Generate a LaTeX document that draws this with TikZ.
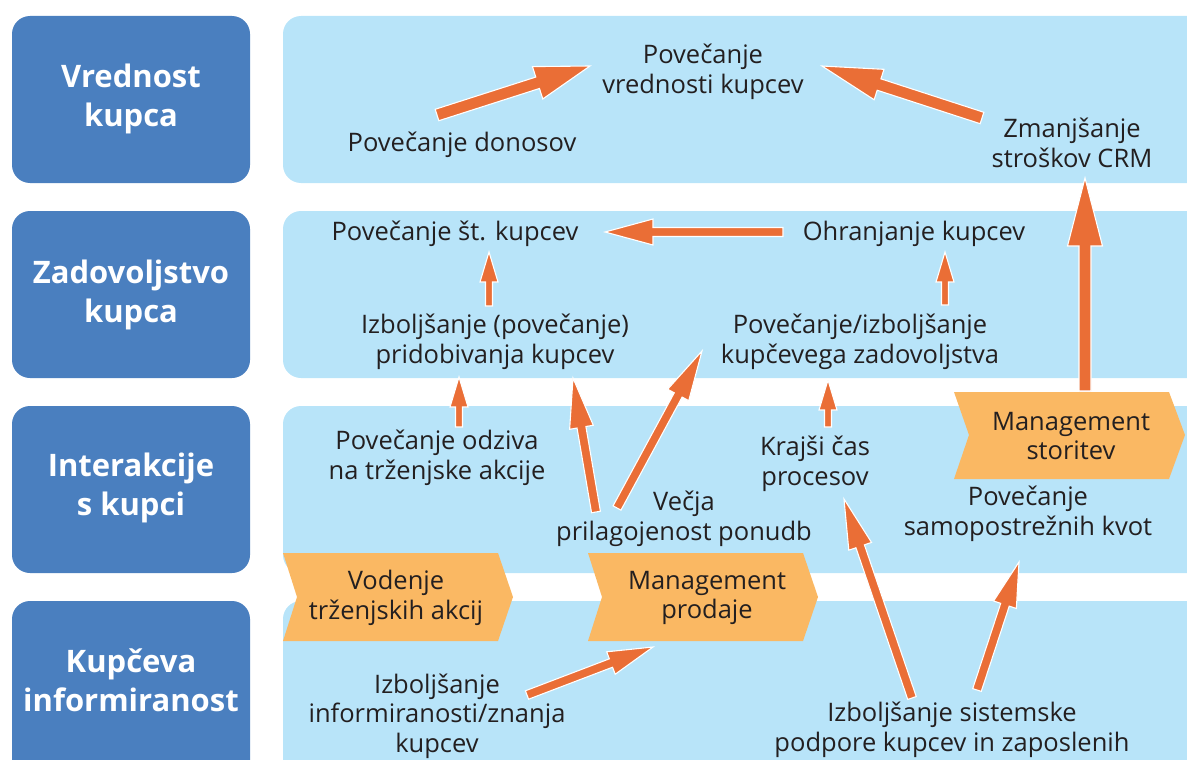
\documentclass[tikz,border=0pt]{standalone}
\usepackage{fontspec}
\setmainfont{Open Sans}
\usetikzlibrary{calc}

\definecolor{rowdark}{HTML}{4A7FBF}
\definecolor{rowlight}{HTML}{B8E4F9}
\definecolor{chev}{HTML}{FAB863}
\definecolor{arr}{HTML}{EA6E36}
\definecolor{ink}{HTML}{231F20}

\tikzset{
  lab/.style={text=white, font=\bfseries\fontsize{31}{39}\selectfont, align=center, inner sep=0},
  txt/.style={text=ink, font=\fontsize{25.5}{29.5}\selectfont, align=center, inner sep=0},
  darkrow/.style={fill=rowdark, rounded corners=18pt},
  lightrow/.style={fill=rowlight, rounded corners=18pt},
  chevron/.style={fill=chev},
  arrowbody/.style={fill=arr, draw=white, line width=1.1pt, line join=miter},
}

% block arrow: #1 tail, #2 tip, #3 half shaft width, #4 head length, #5 half head width
\newcommand\fatarrow[5]{%
  \coordinate (fa-h) at ($(#2)!#4!(#1)$);
  \path[arrowbody]
    ($(#1)!#3!90:(#2)$) -- ($(fa-h)!#3!90:(#2)$) -- ($(fa-h)!#5!90:(#2)$)
    -- (#2)
    -- ($(fa-h)!#5!-90:(#2)$) -- ($(fa-h)!#3!-90:(#2)$) -- ($(#1)!#3!-90:(#2)$) -- cycle;
}

\begin{document}
\begin{tikzpicture}[x=1pt, y=-1pt]
\useasboundingbox (0,0) rectangle (1187,760);
\clip (0,0) rectangle (1187,760);

% row bands
\fill[darkrow] (12,16) rectangle (250,183);
\fill[darkrow] (12,211) rectangle (250,378);
\fill[darkrow] (12,406) rectangle (250,573);
\fill[darkrow] (12,601) rectangle (250,800);
\fill[lightrow] (283,16) rectangle (1230,183);
\fill[lightrow] (283,211) rectangle (1230,378);
\fill[lightrow] (283,406) rectangle (1230,573);
\fill[lightrow] (283,601) rectangle (1230,800);

% row labels
\node[lab] (l1) at (131,99) {Vrednost\\kupca};
\node[lab] (l2) at (131,295) {Zadovoljstvo\\kupca};
\node[lab] (l3) at (131,488) {Interakcije\\s kupci};
\node[lab] (l4) at (131,680) {Kupčeva\\informiranost};

% process chevrons
\fill[chevron] (283,553) -- (498,553) -- (513,597) -- (498,641) -- (283,641) -- (297,597) -- cycle;
\fill[chevron] (588,553) -- (803,553) -- (818,597) -- (803,641) -- (588,641) -- (602,597) -- cycle;
\fill[chevron] (954,392) -- (1169,392) -- (1185,435) -- (1169,479) -- (954,479) -- (969,435) -- cycle;
\node[txt] (c1) at (396,598) {Vodenje\\trženjskih akcij};
\node[txt] (c2) at (707,598) {Management\\prodaje};
\node[txt] (c3) at (1071,436) {Management\\storitev};

% row 1
\node[txt] (vred) at (703,72) {Povečanje\\vrednosti kupcev};
\node[txt] (don) at (462,145) {Povečanje donosov};
\node[txt] (crm) at (1072,143) {Zmanjšanje\\stroškov CRM};
% row 2
\node[txt] (stk) at (455,234) {Povečanje št. kupcev};
\node[txt] (ohr) at (914,234) {Ohranjanje kupcev};
\node[txt] (prid) at (495,342) {Izboljšanje (povečanje)\\pridobivanja kupcev};
\node[txt] (zad) at (860,342) {Povečanje/izboljšanje\\kupčevega zadovoljstva};
% row 3
\node[txt] (odz) at (437,458) {Povečanje odziva\\na trženjske akcije};
\node[txt] (proc) at (815,464) {Krajši čas\\procesov};
\node[txt] (pon) at (684,519) {Večja\\prilagojenost ponudb};
\node[txt] (samo) at (1028,514) {Povečanje\\samopostrežnih kvot};
% row 4
\node[txt] (inf) at (437,716) {Izboljšanje\\informiranosti/znanja\\kupcev};
\node[txt] (sis) at (952,730) {Izboljšanje sistemske\\podpore kupcev in zaposlenih};

% connector end points
\coordinate (donT) at (437,115);   \coordinate (vredL) at (590,66);
\coordinate (crmT) at (982,118);   \coordinate (vredR) at (822,66);
\coordinate (ohrT) at (783,232);   \coordinate (stkR) at (605,232);
\coordinate (pridT) at (489,306);  \coordinate (stkB) at (489,252);
\coordinate (zadT) at (945,305);   \coordinate (ohrB) at (945,252);
\coordinate (odzT) at (459,427);   \coordinate (pridB) at (459,377);
\coordinate (procT) at (828,427);  \coordinate (zadB) at (828,380);
\coordinate (ponA) at (596,512);   \coordinate (pridC) at (573,378);
\coordinate (ponB) at (617,508);   \coordinate (zadL) at (702,351);
\coordinate (sisA) at (912,698);   \coordinate (procB) at (844,499);
\coordinate (sisB) at (977,690);   \coordinate (samoB) at (1019,562);
\coordinate (infT) at (527,695);   \coordinate (c2B) at (653,647);
\coordinate (c3T) at (1085,391);   \coordinate (crmB) at (1085,178);

% connectors
\fatarrow{donT}{vredL}{6pt}{55pt}{17pt}
\fatarrow{crmT}{vredR}{6pt}{60pt}{16pt}
\fatarrow{ohrT}{stkR}{4.5pt}{48pt}{13pt}
\fatarrow{pridT}{stkB}{3.5pt}{30pt}{9pt}
\fatarrow{zadT}{ohrB}{3.5pt}{30pt}{9pt}
\fatarrow{odzT}{pridB}{3.5pt}{30pt}{9pt}
\fatarrow{procT}{zadB}{3.5pt}{30pt}{9pt}
\fatarrow{ponA}{pridC}{4.5pt}{50pt}{12pt}
\fatarrow{ponB}{zadL}{4.5pt}{50pt}{12pt}
\fatarrow{sisA}{procB}{4.5pt}{50pt}{12pt}
\fatarrow{sisB}{samoB}{4.5pt}{45pt}{12pt}
\fatarrow{infT}{c2B}{4.5pt}{45pt}{12pt}
\fatarrow{c3T}{crmB}{6pt}{68pt}{17.5pt}
\end{tikzpicture}
\end{document}
